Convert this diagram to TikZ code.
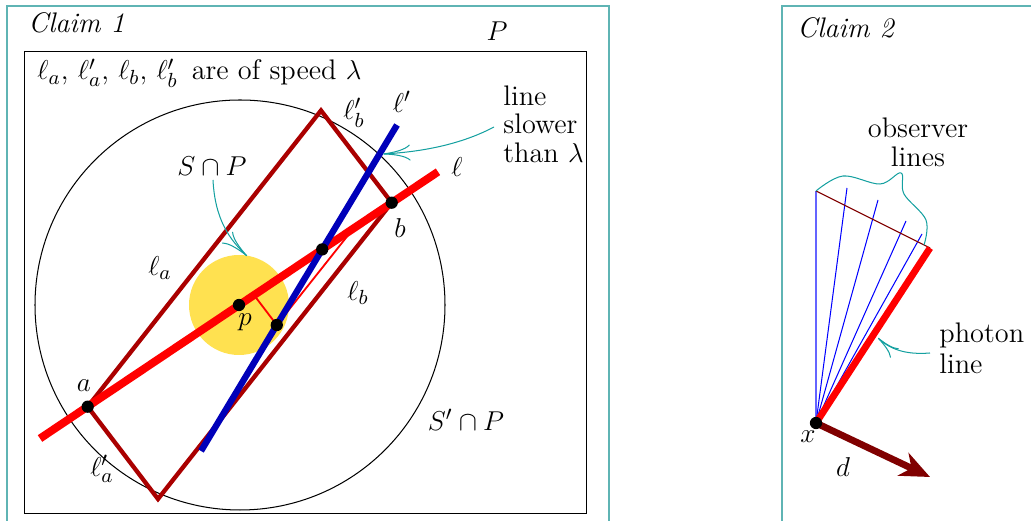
\documentclass[tikz,border=0pt]{standalone}
\usetikzlibrary{arrows.meta,calc}
\definecolor{frameteal}{RGB}{95,180,180}
\definecolor{arrteal}{RGB}{20,160,160}
\definecolor{pdarkred}{RGB}{170,0,0}
\definecolor{pblue}{RGB}{0,0,185}
\definecolor{pyellow}{RGB}{255,225,80}
\definecolor{dmaroon}{RGB}{128,0,0}
\definecolor{lightblue}{RGB}{100,100,255}
\begin{document}
\begin{tikzpicture}[x=0.44pt,y=-0.44pt,
  every node/.style={font=\fontsize{12.45pt}{12.5pt}\selectfont},
  frame/.style={draw=frameteal,line width=0.6pt},
  note/.style={draw=arrteal,line width=0.45pt,-{To[length=12pt,width=7pt]}},
  notesmall/.style={draw=arrteal,line width=0.45pt,-{To[length=10pt,width=5.5pt]}},
  speedline/.style={draw=pdarkred,line width=1.9pt,line join=miter},
  thickred/.style={draw=red,line width=3.5pt},
  thickblue/.style={draw=pblue,line width=2.8pt},
  dot/.style={fill=black},
  lbl/.style={inner sep=1pt},
  obs/.style={draw=blue,line width=0.45pt}]
\useasboundingbox (0,0) rectangle (1031,521);

% frames
\draw[frame] (7,530) -- (7,6) -- (609,6) -- (609,530);
\draw[frame] (782,530) -- (782,6) -- (1040,6);
\draw[line width=0.4pt] (24,51) rectangle (586,513);

% ---- Claim 1 ----
\coordinate (a) at (87.7,406.7);
\coordinate (b) at (391.7,202.7);
\coordinate (T) at (321,110.5);
\coordinate (B) at (158,499);
\coordinate (p) at (239,305);
\coordinate (L1) at (40,438.5);
\coordinate (L2) at (438,171.8);
\coordinate (M1) at (201,451);
\coordinate (M2) at (397,125);
\coordinate (q) at (intersection of M1--M2 and 0,325--400,325);
\coordinate (u) at (intersection of M1--M2 and L1--L2);
\coordinate (qa) at ($(q)+(-70,-92)$);
\coordinate (qb) at ($(q)+(73,-92)$);
\coordinate (ra) at (intersection of q--qa and L1--L2);
\coordinate (rb) at (intersection of q--qb and L1--L2);

\draw[line width=0.45pt] (240,305) circle[radius=90.2pt];
\fill[pyellow] (p) circle[radius=22pt];
\draw[speedline] (a) -- (T) -- (b) -- (B) -- cycle;
\draw[red,line width=0.8pt] (ra) -- (q) -- (rb);
\draw[thickred] (L1) -- (L2);
\draw[thickblue] (M1) -- (M2);
\foreach \pt in {a,b,p,q,u} \fill[dot] (\pt) circle[radius=2.7pt];

\node[lbl] (lP) at (497,31) {$P$};
\node[anchor=base west,inner sep=0] (c1) at (28,33) {\textit{Claim 1}};
\node[anchor=base west,inner sep=0] (spd) at (37,80) {$\ell_a$, $\ell'_a$, $\ell_b$, $\ell'_b$\, are of speed $\lambda$};
\node[lbl] (lbp) at (354,113) {$\ell'_b$};
\node[lbl] (lp) at (402,102) {$\ell'$};
\node[lbl] (ll) at (457,167) {$\ell$};
\node[lbl] (lb) at (400,228) {$b$};
\node[lbl] (lpp) at (245,322) {$p$};
\node[lbl] (la) at (84,386) {$a$};
\node[lbl] (lla) at (160,268) {$\ell_a$};
\node[lbl] (llb) at (358,293) {$\ell_b$};
\node[lbl] (llap) at (102,469) {$\ell'_a$};
\node[lbl] (SP) at (212,166) {$S\cap P$};
\node[lbl] (SpP) at (466,420) {$S'\cap P$};
\node[align=left,anchor=north west,inner sep=0] (slow) at (503,85.4) {line\\slower\\than $\lambda$};

\coordinate (sp1) at (213,180);
\coordinate (sp2) at (247,256);
\draw[note] (sp1) .. controls (215,220) and (230,240) .. (sp2);
\coordinate (sl1) at (494,127);
\coordinate (sl2) at (383,154);
\draw[note] (sl1) .. controls (460,145) and (420,152) .. (sl2);

% ---- Claim 2 ----
\node[anchor=base west,inner sep=0] (c2) at (797,38) {\textit{Claim 2}};
\coordinate (x) at (816,423);
\coordinate (ph) at (930,248);
\coordinate (o1) at (816,191);
\coordinate (o2) at (847,188);
\coordinate (o3) at (878,200);
\coordinate (o4) at (906,221);
\coordinate (o5) at (922,234);
\coordinate (dt) at (930,477);
\draw[draw=lightblue,line width=0.7pt] (x) -- (o1);
\foreach \o in {o2,o3,o4,o5} \draw[obs] (x) -- (\o);
\draw[dmaroon,line width=0.5pt] (o1) -- (ph);
\draw[draw=red,line width=3pt] (x) -- (ph);
\draw[dmaroon,line width=3pt,-{Stealth[length=13pt,width=11pt,inset=4pt]}] (x) -- (dt);
\fill[dot] (x) circle[radius=2.7pt];
\draw[draw=arrteal,line width=0.45pt] plot[smooth,tension=0.6] coordinates {(816,191) (843,176) (880,184) (901,173) (904,194) (926,220) (924,245)};

\node[align=center,anchor=north,inner sep=0] (obsl) at (918,117.7) {observer\\lines};
\node[align=left,anchor=north west,inner sep=0,font=\fontsize{12.45pt}{13.9pt}\selectfont] (phl) at (939,322) {photon\\line};
\node[lbl] (lx) at (808,437) {$x$};
\node[lbl] (ld) at (843,467) {$d$};
\coordinate (pa1) at (930,353);
\coordinate (pa2) at (878,338);
\draw[notesmall] (pa1) .. controls (905,355) and (890,349) .. (pa2);
\end{tikzpicture}
\end{document}
